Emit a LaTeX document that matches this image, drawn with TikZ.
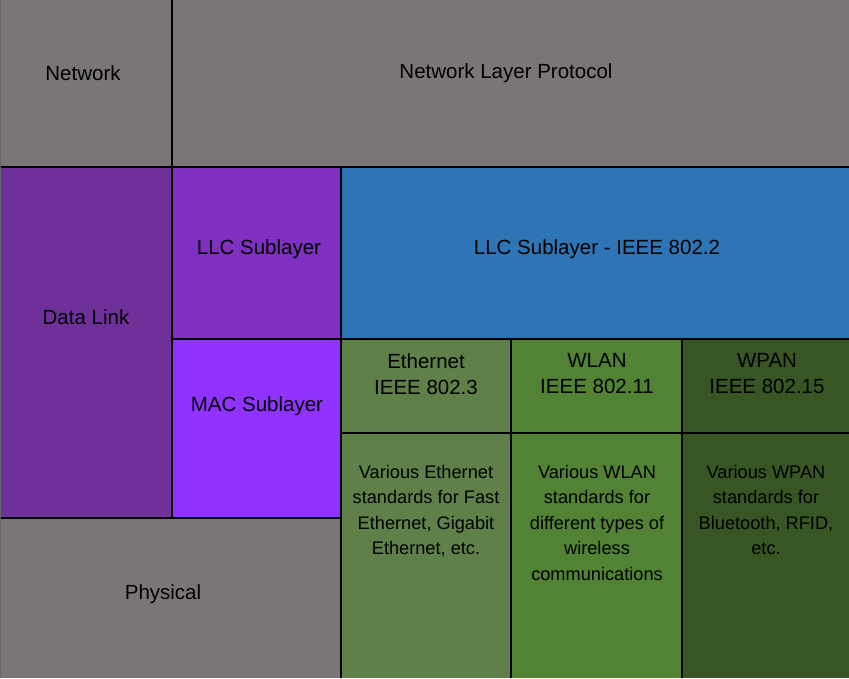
\documentclass[tikz,border=0pt]{standalone}
\usepackage{fontspec}
\setmainfont{Liberation Sans}
\definecolor{netgray}{RGB}{122,117,120}
\definecolor{dlpurple}{RGB}{112,48,154}
\definecolor{llcpurple}{RGB}{128,48,192}
\definecolor{macpurple}{RGB}{144,51,255}
\definecolor{llcblue}{RGB}{46,117,182}
\definecolor{ethgreen}{RGB}{96,128,74}
\definecolor{wlangreen}{RGB}{82,130,52}
\definecolor{wpangreen}{RGB}{56,86,35}
\tikzset{
  lbl/.style={font=\fontsize{20.5}{26}\selectfont, align=center, inner sep=0pt},
  desc/.style={lbl, font=\fontsize{18.2}{25.5}\selectfont, anchor=north},
  rule/.style={line width=1.2pt, black}
}

\begin{document}
\begin{tikzpicture}[x=1pt,y=-1pt]
    \useasboundingbox (0,0) rectangle (849,678);
    \fill[netgray] (0,0) rectangle (172,167);
    \fill[netgray] (172,0) rectangle (849,167);
    \fill[dlpurple] (0,167) rectangle (172,518);
    \fill[llcpurple] (172,167) rectangle (341,339);
    \fill[macpurple] (172,339) rectangle (341,518);
    \fill[llcblue] (341,167) rectangle (849,339);
    \fill[ethgreen] (341,339) rectangle (511,678);
    \fill[wlangreen] (511,339) rectangle (682,678);
    \fill[wpangreen] (682,339) rectangle (849,678);
    \fill[netgray] (0,518) rectangle (341,678);
    % grid lines
    \draw[rule] (172,0) -- (172,518);
    \draw[rule] (0,167) -- (849,167);
    \draw[rule] (172,339) -- (849,339);
    \draw[rule] (341,167) -- (341,678);
    \draw[rule] (511,339) -- (511,678);
    \draw[rule] (682,339) -- (682,678);
    \draw[rule] (341,433) -- (849,433);
    \draw[rule] (0,518) -- (341,518);
    \draw[line width=0.8pt, black!60] (0.4,0) -- (0.4,678);
    % labels
    \node[lbl] (network) at (83,73) {Network};
    \node[lbl] (netproto) at (506,73) {Network Layer Protocol};
    \node[lbl] (datalink) at (86,317) {Data Link};
    \node[lbl] (llc) at (259,249) {LLC Sublayer};
    \node[lbl] (mac) at (257,406) {MAC Sublayer};
    \node[lbl] (llcieee) at (597,249) {LLC Sublayer - IEEE 802.2};
    \node[lbl] (eth) at (426,374) {Ethernet\\IEEE 802.3};
    \node[lbl] (wlan) at (597,374) {WLAN\\IEEE 802.11};
    \node[lbl] (wpan) at (767,374) {WPAN\\IEEE 802.15};
    \node[desc] (ethdesc) at (426,465) {Various Ethernet\\standards for Fast\\Ethernet, Gigabit\\Ethernet, etc.};
    \node[desc] (wlandesc) at (597,465) {Various WLAN\\standards for\\different types of\\wireless\\communications};
    \node[desc] (wpandesc) at (766,465) {Various WPAN\\standards for\\Bluetooth, RFID,\\etc.};
    \node[lbl] (physical) at (163,594) {Physical};
\end{tikzpicture}
\end{document}
